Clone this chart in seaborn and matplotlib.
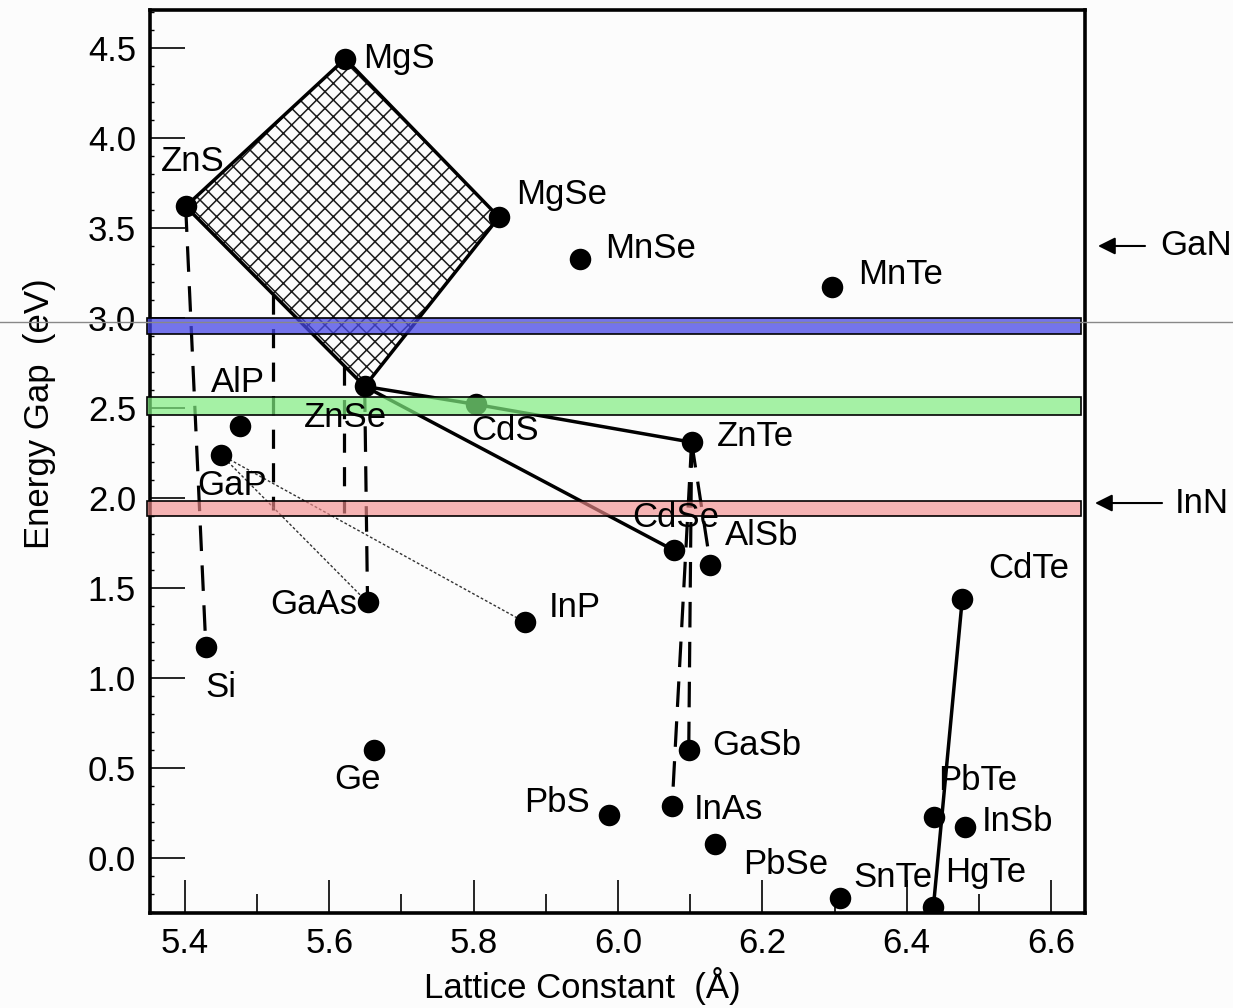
import numpy as np
import pandas as pd
import matplotlib
matplotlib.use("Agg")
import matplotlib.pyplot as plt
import seaborn as sns
from matplotlib.patches import Polygon
from matplotlib.ticker import MultipleLocator

# ---------------- data ----------------
compounds = ["MgS", "ZnS", "MgSe", "MnSe", "MnTe", "ZnSe", "CdS", "ZnTe", "CdSe",
             "AlSb", "AlP", "GaP", "GaAs", "InP", "Si", "Ge", "GaSb", "PbS",
             "InAs", "InSb", "PbTe", "PbSe", "SnTe", "HgTe", "CdTe"]
lattice = [5.622, 5.401, 5.835, 5.947, 6.297, 5.649, 5.803, 6.102, 6.077,
           6.128, 5.476, 5.450, 5.653, 5.871, 5.429, 5.662, 6.098, 5.988,
           6.075, 6.481, 6.438, 6.134, 6.307, 6.437, 6.477]
energy_gap = [4.44, 3.62, 3.56, 3.33, 3.17, 2.62, 2.52, 2.31, 1.71,
              1.63, 2.40, 2.24, 1.42, 1.31, 1.17, 0.60, 0.60, 0.24,
              0.29, 0.17, 0.23, 0.08, -0.22, -0.27, 1.44]

diamond = ["ZnS", "MgS", "MgSe", "ZnSe"]
solid_paths = [["ZnS", "MgS", "MgSe", "ZnSe", "ZnS"],
               ["ZnSe", "CdS", "ZnTe"],
               ["ZnSe", "CdSe"],
               ["CdTe", "HgTe"]]
dashed_pairs = [("ZnS", "Si"), ("ZnSe", "GaAs"), ("ZnTe", "AlSb"),
                ("ZnTe", "GaSb"), ("ZnTe", "InAs")]
dotted_pairs = [("GaP", "GaAs"), ("GaP", "InP")]
# lattice-matched verticals (lattice constant, top gap, bottom gap)
matched_x = [5.522, 5.620]
matched_top = [3.128, 2.733]
matched_bottom = [1.933, 1.917]

# emission bands (eV): blue, green, red
band_low = [2.911, 2.461, 1.900]
band_high = [3.000, 2.561, 1.983]
band_colors = [(0.28, 0.28, 0.90, 0.75), (0.50, 0.93, 0.50, 0.70), (0.95, 0.55, 0.55, 0.65)]

nitride_names = ["GaN", "InN"]
nitride_gap = [3.40, 1.972]

df = pd.DataFrame({"name": compounds, "a": lattice, "Eg": energy_gap})
pos = {n: (a, e) for n, a, e in zip(compounds, lattice, energy_gap)}

# label offsets in pixels (dx, dy), alignment
label_off = {
    "ZnS": (-25, 45, "left"), "MgS": (18, 0, "left"), "MgSe": (17, 23, "left"),
    "MnSe": (25, 10, "left"), "MnTe": (26, 13, "left"), "AlP": (-29, 43, "left"),
    "ZnSe": (-61, -31, "left"), "CdS": (-5, -26, "left"), "ZnTe": (25, 6, "left"),
    "GaP": (-24, -31, "left"), "CdSe": (-41, 33, "left"), "AlSb": (15, 29, "left"),
    "CdTe": (26, 30, "left"), "GaAs": (-10, -2, "right"), "InP": (24, 15, "left"),
    "Si": (0, -40, "left"), "Ge": (-40, -30, "left"), "GaSb": (24, 4, "left"),
    "PbTe": (4, 36, "left"), "PbS": (-19, 12, "right"), "InAs": (22, -4, "left"),
    "InSb": (17, 6, "left"), "PbSe": (28, -21, "left"), "SnTe": (14, 20, "left"),
    "HgTe": (12, 34, "left"),
}

# ---------------- style ----------------
sns.set_theme(style="ticks")
plt.rcParams["font.family"] = ["Liberation Sans", "DejaVu Sans"]
plt.rcParams["hatch.linewidth"] = 1.1
for k in ["text.color", "axes.labelcolor", "xtick.color", "ytick.color", "axes.edgecolor"]:
    plt.rcParams[k] = "black"
FS = 25

fig = plt.figure(figsize=(12.33, 10.08), dpi=100, facecolor="#fcfcfc")
ax = fig.add_axes([150 / 1233, 1 - 913 / 1008, 935 / 1233, 903 / 1008])
ax.set_facecolor("#fcfcfc")
ax.set_xlim(5.3516, 6.647)
ax.set_ylim(-0.3056, 4.711)

# hatched diamond
poly = Polygon([pos[n] for n in diamond], closed=True, fill=False,
               hatch="xx", edgecolor="#1a1a1a", lw=0, zorder=1)
ax.add_patch(poly)

# lines
for path in solid_paths:
    ax.plot([pos[n][0] for n in path], [pos[n][1] for n in path],
            color="black", lw=2.5, zorder=3, solid_capstyle="round")
for a, b in dashed_pairs:
    ax.plot([pos[a][0], pos[b][0]], [pos[a][1], pos[b][1]], color="black",
            lw=2.3, linestyle=(0, (8, 4.5)), zorder=3)
for x, t, b in zip(matched_x, matched_top, matched_bottom):
    ax.plot([x, x], [t, b], color="black", lw=2.3, linestyle=(0, (6, 4.5)), zorder=3)
for a, b in dotted_pairs:
    ax.plot([pos[a][0], pos[b][0]], [pos[a][1], pos[b][1]], color="#333333",
            lw=1.0, linestyle=(0, (2, 1.5)), zorder=3)

# points
sns.scatterplot(data=df, x="a", y="Eg", s=240, color="black", edgecolor="black",
                linewidth=0, ax=ax, zorder=5, legend=False)

# bands
for lo, hi, c in zip(band_low, band_high, band_colors):
    ax.axhspan(lo, hi, xmin=-0.003, xmax=0.9957, facecolor=c,
               edgecolor="black", lw=1.2, zorder=6, clip_on=False)

# gray horizontal line across figure
ax.axhline(2.978, xmin=-0.161, xmax=1.16, color="#888888", lw=1.0,
           clip_on=False, zorder=7)

# labels
for n in compounds:
    dx, dy, ha = label_off[n]
    ax.annotate(n, xy=pos[n], xytext=(dx, dy), textcoords="offset pixels",
                ha=ha, va="center", fontsize=FS, color="black", zorder=8)

# nitride arrows
arrow_head = [1.0139, 1.0107]
arrow_tail = [1.0642, 1.0824]
text_x = [1.080, 1.0963]
for name, g, h, t, tx in zip(nitride_names, nitride_gap, arrow_head, arrow_tail, text_x):
    ax.annotate("", xy=(h, g), xycoords=("axes fraction", "data"),
                xytext=(t, g), textcoords=("axes fraction", "data"),
                arrowprops=dict(arrowstyle="-|>", color="black", lw=1.5,
                                mutation_scale=26, shrinkA=0, shrinkB=0),
                annotation_clip=False)
    ax.text(tx, g, name, transform=ax.get_yaxis_transform(), ha="left",
            va="center", fontsize=FS, clip_on=False)

# axes styling
for s in ax.spines.values():
    s.set_linewidth(2.6)
    s.set_color("black")
ax.xaxis.set_major_locator(MultipleLocator(0.2))
ax.xaxis.set_minor_locator(MultipleLocator(0.1))
ax.yaxis.set_major_locator(MultipleLocator(0.5))
ax.yaxis.set_minor_locator(MultipleLocator(0.1))
ax.tick_params(axis="x", which="major", direction="in", length=24, width=1.2,
               labelsize=FS, pad=10, top=False, color="black", labelcolor="black")
ax.tick_params(axis="x", which="minor", direction="in", length=14, width=1.2, top=False,
               color="black")
ax.tick_params(axis="y", which="major", direction="in", length=25, width=1.2,
               labelsize=FS, pad=10, right=False, color="black", labelcolor="black")
ax.tick_params(axis="y", which="minor", direction="in", length=3, width=1.0, right=False,
               color="black")
ax.set_xticklabels([f"{v:.1f}" for v in ax.get_xticks()])
ax.set_yticklabels([f"{v:.1f}" for v in ax.get_yticks()])

ax.set_xlabel("Lattice Constant  (Å)", fontsize=FS)
ax.set_ylabel("Energy Gap  (eV)", fontsize=FS)
ax.xaxis.set_label_coords(0.462, -0.060)
ax.yaxis.set_label_coords(-0.100, 0.553)

fig.savefig("out.png", dpi=100, facecolor=fig.get_facecolor())
